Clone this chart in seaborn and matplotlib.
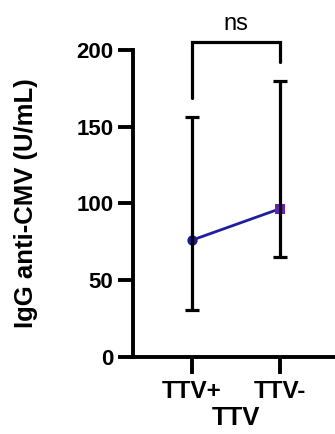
import matplotlib
matplotlib.use("Agg")
import matplotlib.pyplot as plt
import seaborn as sns
import pandas as pd

groups = ["TTV+", "TTV-"]
means = [76, 96.5]
lower = [30.5, 64.8]
upper = [156.5, 180]
marker_colors = ["#1c1c8a", "#6a22b0"]
marker_shapes = ["o", "s"]
y_ticks = [0, 50, 100, 150, 200]
sig_label = "ns"

sns.set_theme(style="ticks")
plt.rcParams["font.family"] = ["Liberation Sans", "DejaVu Sans"]
plt.rcParams["text.color"] = "black"
plt.rcParams["axes.labelcolor"] = "black"

df = pd.DataFrame({"group": groups, "pos": range(len(groups)), "mean": means,
                   "lower": lower, "upper": upper})

fig = plt.figure(figsize=(3.35, 4.34), dpi=100)
ax = fig.add_axes([133 / 335, 1 - 356.7 / 434, (339 - 133) / 335, (356.7 - 50) / 434])

# connecting line between group means
sns.lineplot(data=df, x="pos", y="mean", ax=ax, color="#1e1ea0", lw=2, zorder=2)

# group markers
for i, row in df.iterrows():
    sns.scatterplot(x=[row["pos"]], y=[row["mean"]], ax=ax, marker=marker_shapes[i],
                    color=marker_colors[i], s=55, edgecolor=marker_colors[i],
                    linewidth=0, zorder=3, legend=False)

# range error bars
ax.errorbar(df["pos"], df["mean"],
            yerr=[df["mean"] - df["lower"], df["upper"] - df["mean"]],
            fmt="none", ecolor="black", elinewidth=2.3, capsize=5, capthick=2.3, zorder=4)

ax.set_xlim(-0.67, 1.67)
ax.set_ylim(0, 200)
ax.set_xticks(df["pos"])
ax.set_xticklabels(groups)
ax.set_yticks(y_ticks)
ax.set_xlabel("TTV", fontsize=18.5, fontweight="bold", labelpad=2, color="black")
ax.set_ylabel("IgG anti-CMV (U/mL)", fontsize=18.5, fontweight="bold", labelpad=28,
              color="black")
ax.tick_params(axis="both", length=11, width=2.8, colors="black", labelcolor="black")
ax.tick_params(axis="x", length=12, pad=5, labelsize=17.5)
ax.tick_params(axis="y", pad=3, labelsize=16)
for lab in ax.get_xticklabels() + ax.get_yticklabels():
    lab.set_fontweight("bold")
for side in ["left", "bottom"]:
    ax.spines[side].set_linewidth(2.8)
    ax.spines[side].set_color("black")
sns.despine(ax=ax)

# significance bracket
ax.plot([0, 0, 1, 1], [168.5, 205, 205, 192.5], color="black", lw=2.3,
        clip_on=False, solid_joinstyle="miter")
ax.text(0.5, 217, sig_label, ha="center", va="center", fontsize=17, color="black")

fig.savefig("out.png", dpi=100)
